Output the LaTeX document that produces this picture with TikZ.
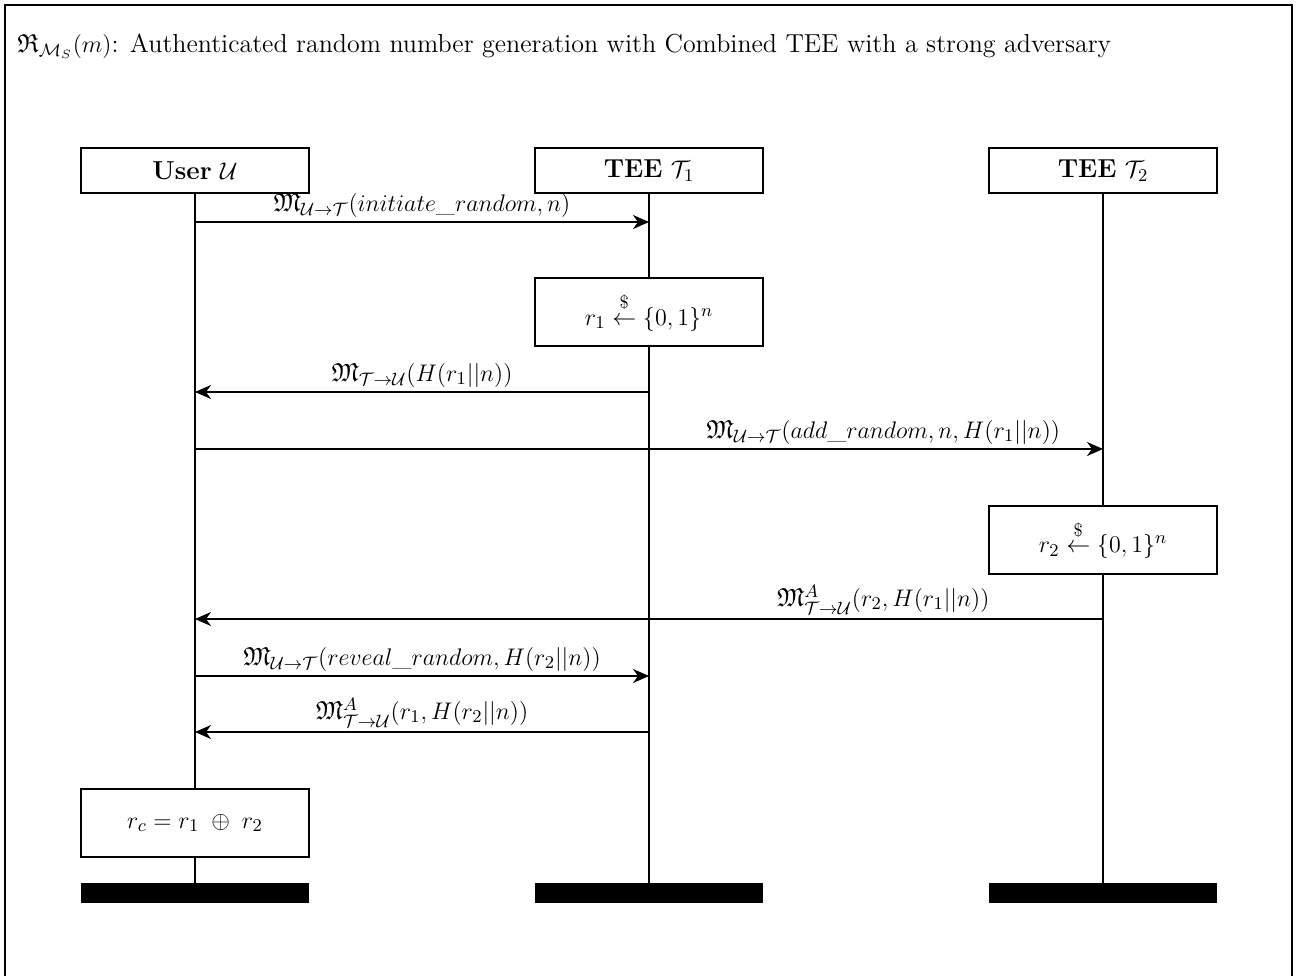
\documentclass[tikz,border=0pt]{standalone}
\usepackage{amsmath,amssymb}
\usetikzlibrary{arrows.meta}
% random sampling arrow with a dollar sign above it
\newcommand{\sampleto}{\mathrel{\overset{\raisebox{0.2ex}{$\scriptstyle\$$}}{\leftarrow}}}
\tikzset{
  unitbox/.style={draw, line width=1pt, minimum width=114pt, inner sep=0pt},
  headbox/.style={unitbox, minimum height=22.5pt},
  actbox/.style={unitbox, fill=white, minimum height=34pt},
  endbar/.style={fill=black, minimum width=114pt, minimum height=10pt, inner sep=0pt},
  life/.style={line width=0.9pt},
  msg/.style={line width=0.9pt, -{Stealth[length=8pt, width=7pt, inset=2.5pt]}},
  lbl/.style={inner sep=2pt}
}
\begin{document}
\begin{tikzpicture}[x=0.5pt, y=-0.5pt, font=\fontsize{13}{15.5}\selectfont]
\useasboundingbox (0,0) rectangle (1296,975);
% frame
\draw[line width=1.4pt] (5,990) -- (5,5) -- (1292,5) -- (1292,990);
\node[anchor=base west, inner sep=0pt] (title) at (17,52)
  {$\mathfrak{R}_{\mathcal{M}_S}(m)$: Authenticated random number generation with Combined TEE with a strong adversary};

% participants
\node[headbox] (u) at (195,170.5) {\textbf{User} $\mathcal{U}$};
\node[headbox] (t1) at (649,170.5) {\textbf{TEE} $\mathcal{T}_1$};
\node[headbox] (t2) at (1103,170.5) {\textbf{TEE} $\mathcal{T}_2$};

% lifeline ends
\node[endbar] (ue) at (195,893) {};
\node[endbar] (t1e) at (649,893) {};
\node[endbar] (t2e) at (1103,893) {};

% local computations
\node[actbox] (r1) at (649,312) {$r_1 \sampleto \{0,1\}^n$};
\node[actbox] (r2) at (1103,539.5) {$r_2 \sampleto \{0,1\}^n$};
\node[actbox] (rc) at (195,823) {$r_c = r_1 \;\oplus\; r_2$};

% lifelines
\draw[life] (u.south) -- (rc.north);
\draw[life] (rc.south) -- (ue.north);
\draw[life] (t1.south) -- (r1.north);
\draw[life] (r1.south) -- (t1e.north);
\draw[life] (t2.south) -- (r2.north);
\draw[life] (r2.south) -- (t2e.north);

% message points on the lifelines
\coordinate (ua) at (195,222);  \coordinate (t1a) at (649,222);
\coordinate (ub) at (195,392);  \coordinate (t1b) at (649,392);
\coordinate (uc) at (195,449);  \coordinate (t2c) at (1103,449);
\coordinate (ud) at (195,619);  \coordinate (t2d) at (1103,619);
\coordinate (ue5) at (195,676); \coordinate (t1e5) at (649,676);
\coordinate (uf) at (195,732);  \coordinate (t1f) at (649,732);

% messages
\draw[msg] (ua) -- (t1a) node[lbl, midway, above]
  {$\mathfrak{M}_{\mathcal{U}\to\mathcal{T}}(initiate\_random, n)$};
\draw[msg] (t1b) -- (ub) node[lbl, midway, above]
  {$\mathfrak{M}_{\mathcal{T}\to\mathcal{U}}(H(r_1||n))$};
\draw[msg] (uc) -- (t2c) node[lbl, pos=0.758, above]
  {$\mathfrak{M}_{\mathcal{U}\to\mathcal{T}}(add\_random, n, H(r_1||n))$};
\draw[msg] (t2d) -- (ud) node[lbl, pos=0.242, above]
  {$\mathfrak{M}^{A}_{\mathcal{T}\to\mathcal{U}}(r_2, H(r_1||n))$};
\draw[msg] (ue5) -- (t1e5) node[lbl, midway, above]
  {$\mathfrak{M}_{\mathcal{U}\to\mathcal{T}}(reveal\_random, H(r_2||n))$};
\draw[msg] (t1f) -- (uf) node[lbl, midway, above]
  {$\mathfrak{M}^{A}_{\mathcal{T}\to\mathcal{U}}(r_1, H(r_2||n))$};
\end{tikzpicture}
\end{document}
